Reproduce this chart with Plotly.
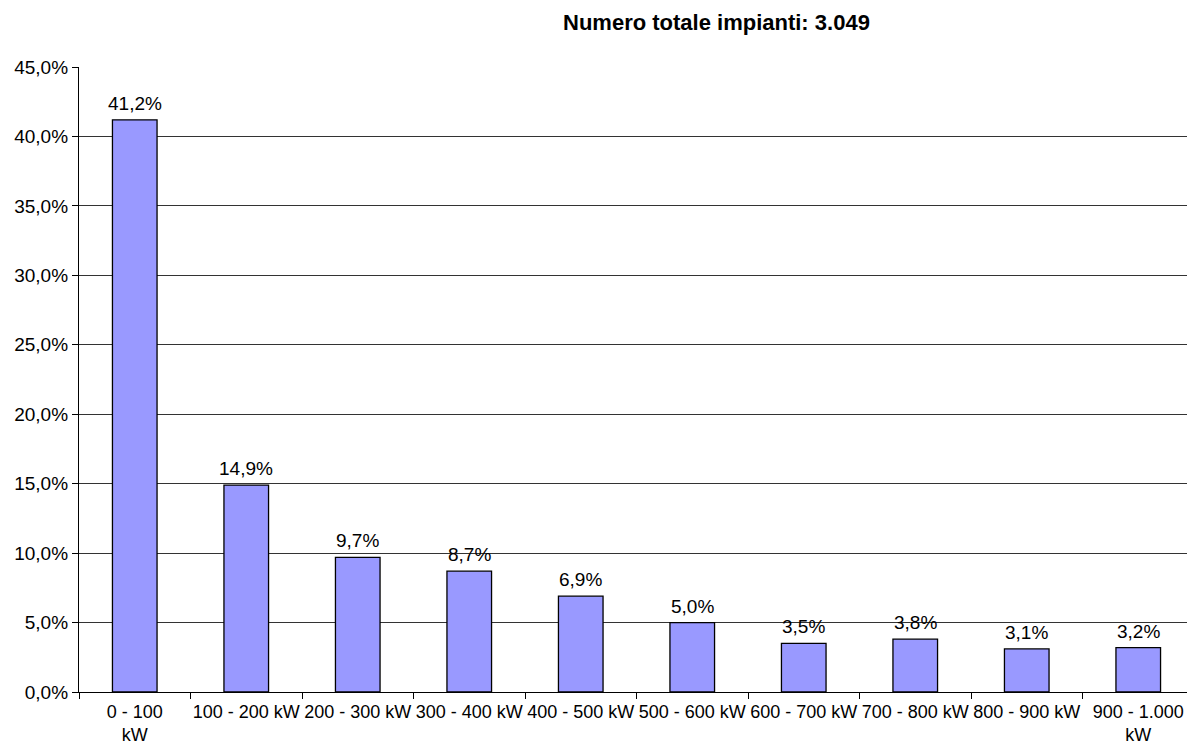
import plotly.graph_objects as go

categories = ["0 - 100<br>kW", "100 - 200 kW", "200 - 300 kW", "300 - 400 kW",
              "400 - 500 kW", "500 - 600 kW", "600 - 700 kW", "700 - 800 kW",
              "800 - 900 kW", "900 - 1.000<br>kW"]
shares = [41.2, 14.9, 9.7, 8.7, 6.9, 5.0, 3.5, 3.8, 3.1, 3.2]
title_text = "Numero totale impianti: 3.049"

font = "Liberation Sans, Arial, sans-serif"

# the page body has an 8px margin, so the figure is shrunk to fit the window
W, H, off = 1195, 745, 8

fig = go.Figure()
fig.add_trace(go.Bar(
    x=categories, y=shares, width=0.4,
    marker=dict(color="#9999FF", line=dict(color="black", width=1.3)),
    hovertemplate="%{x}: %{y:.1f}%<extra></extra>",
))

# value labels above each bar
for cat, val in zip(categories, shares):
    fig.add_annotation(
        x=cat, y=val, text=f"{val:.1f}%".replace(".", ","),
        showarrow=False, yanchor="bottom", yshift=4,
        font=dict(family=font, size=19, color="black"),
    )

fig.update_layout(
    width=W - off, height=H - off,
    margin=dict(l=79 - off, r=1, t=67 - off, b=53),
    paper_bgcolor="white", plot_bgcolor="white",
    separators=",.",
    showlegend=False,
    font=dict(family=font, size=19, color="black"),
    title=dict(text="<b>" + title_text + "</b>", x=0.5717, xref="paper", xanchor="center",
               y=1 - (22 - off) / (H - off), yref="container", yanchor="middle",
               font=dict(family=font, size=22, color="black")),
)
fig.update_xaxes(
    showline=True, linecolor="black", linewidth=1.3,
    ticks="outside", ticklen=6, tickcolor="black", tickson="boundaries",
    ticklabelstandoff=3, showgrid=False, tickangle=0,
    tickfont=dict(family=font, size=18),
)
fig.update_yaxes(
    range=[0, 45], dtick=5, tickformat=".1f", ticksuffix="%",
    showline=True, linecolor="black", linewidth=1.3,
    ticks="outside", ticklen=6, tickcolor="black",
    showgrid=True, gridcolor="#333333", gridwidth=1, zeroline=False,
)

fig.write_html("out.html")
